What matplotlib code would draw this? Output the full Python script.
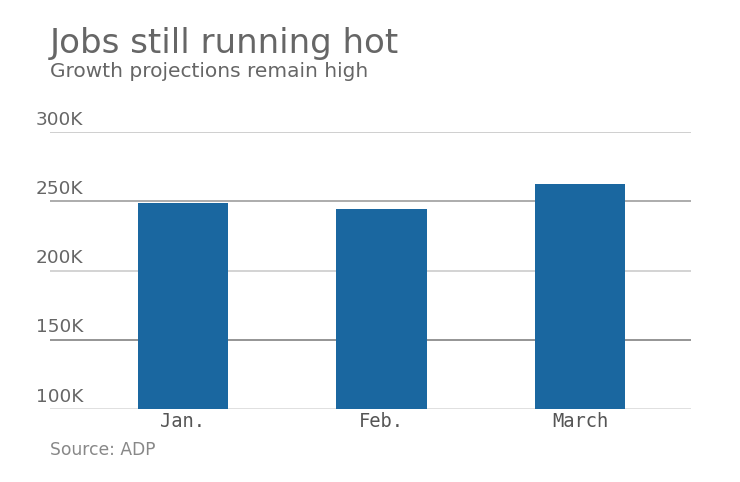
import matplotlib.pyplot as plt
import numpy as np

# data
months = ["Jan.", "Feb.", "March"]
jobs = [248500, 244200, 262300]
yticks = [100000, 150000, 200000, 250000, 300000]
ytick_labels = ["100K", "150K", "200K", "250K", "300K"]
grid_colors = ["#dddddd", "#8c8c8c", "#d0d0d0", "#a6a6a6", "#cccccc"]

fig = plt.figure(figsize=(7.4, 4.82), dpi=100)
ax = fig.add_axes([0.0676, 0.1515, 0.8662, 0.5745])

x = np.arange(len(months))
ax.bar(x, jobs, width=0.455, color="#1a67a0", zorder=3)

ax.set_ylim(100000, 300000)
ax.set_xlim(-0.67, 2.56)

# horizontal gridlines, alternating shades
for val, col in zip(yticks, grid_colors):
    ax.axhline(val, color=col, lw=1.3, zorder=1)

# y labels sit above their gridline, left of the axes
for val, lab in zip(yticks, ytick_labels):
    ax.text(-0.022, val + 2500, lab, transform=ax.get_yaxis_transform(),
            ha="left", va="bottom", fontsize=13.3, color="#666666")

ax.set_yticks([])
ax.set_xticks(x)
ax.set_xticklabels(months, family="DejaVu Sans Mono", fontsize=13.5, color="#555555")
ax.tick_params(axis="x", length=0, pad=2)
for s in ax.spines.values():
    s.set_visible(False)

fig.text(0.0676, 0.89, "Jobs still running hot", fontsize=24.5, color="#666666",
         ha="left", va="baseline")
fig.text(0.0676, 0.84, "Growth projections remain high", fontsize=14.5, color="#666666",
         ha="left", va="baseline")
fig.text(0.0676, 0.057, "Source: ADP", fontsize=12.3, color="#888888",
         ha="left", va="baseline")

fig.savefig("out.png", dpi=100)
